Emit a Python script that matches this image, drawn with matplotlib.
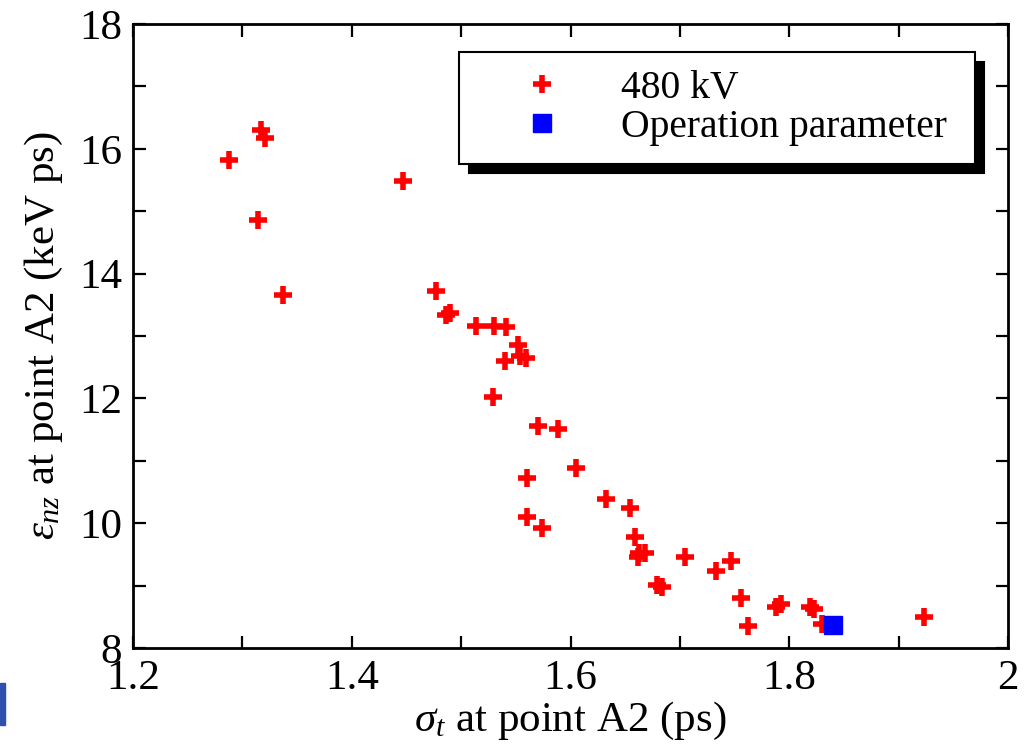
import matplotlib
matplotlib.use('Agg')
import matplotlib.pyplot as plt
from matplotlib.ticker import MultipleLocator
from matplotlib.patches import Rectangle

plt.rcParams['font.family'] = ['Liberation Serif', 'DejaVu Serif']
plt.rcParams['mathtext.fontset'] = 'custom'
plt.rcParams['mathtext.rm'] = 'Liberation Serif'
plt.rcParams['mathtext.it'] = 'Liberation Serif:italic'

# 480 kV scan: bunch length vs longitudinal emittance at A2
sigma_t = [1.288, 1.317, 1.321, 1.314, 1.337, 1.447,
           1.477, 1.486, 1.490, 1.514, 1.530, 1.541, 1.552, 1.540, 1.554, 1.559,
           1.529, 1.570, 1.589, 1.605, 1.560, 1.560, 1.574,
           1.632, 1.654, 1.659, 1.663, 1.668, 1.662, 1.705,
           1.679, 1.684, 1.733, 1.747, 1.756, 1.762,
           1.788, 1.792, 1.819, 1.823, 1.830, 1.923]
eps_nz = [15.82, 16.30, 16.17, 14.86, 13.65, 15.49,
          13.72, 13.33, 13.37, 13.16, 13.16, 13.15, 12.86, 12.60, 12.68, 12.64,
          12.03, 11.55, 11.51, 10.88, 10.72, 10.10, 9.93,
          10.39, 10.25, 9.78, 9.52, 9.52, 9.46, 9.46,
          9.01, 8.97, 9.24, 9.39, 8.80, 8.36,
          8.66, 8.70, 8.65, 8.62, 8.38, 8.50]

op_sigma = [1.840]
op_eps = [8.37]

fig = plt.figure(figsize=(10.25, 7.47), dpi=100)
ax = fig.add_axes([0.1298, 0.1325, 0.8536, 0.8354])

ax.plot(sigma_t, eps_nz, linestyle='none', marker='+', color='red',
        markersize=13, markeredgewidth=4, label='480 kV ')
ax.plot(op_sigma, op_eps, linestyle='none', marker='s', color='blue',
        markersize=13, label='Operation parameter ')

ax.set_xlim(1.2, 2.0)
ax.set_ylim(8, 18)
ax.xaxis.set_major_locator(MultipleLocator(0.2))
ax.xaxis.set_minor_locator(MultipleLocator(0.1))
ax.yaxis.set_major_locator(MultipleLocator(2))
ax.yaxis.set_minor_locator(MultipleLocator(1))
ax.xaxis.set_major_formatter(plt.FuncFormatter(lambda v, p: ('%g' % round(v, 1))))
ax.tick_params(which='both', direction='in', top=True, right=True,
               length=9, width=1.6, labelsize=31, pad=8)
for s in ax.spines.values():
    s.set_linewidth(2)

ax.set_xlabel(r'$\sigma_t$ at point A2 (ps)', fontsize=31, labelpad=2)
ax.set_ylabel(r'$\varepsilon_{nz}$ at point A2 (keV ps)', fontsize=31, labelpad=10)

leg = ax.legend(loc='upper right', bbox_to_anchor=(0.962, 0.955),
                fontsize=28.5, fancybox=False, framealpha=1, edgecolor='black',
                handletextpad=0.35, borderpad=0.45, labelspacing=0.05,
                handlelength=3.3, borderaxespad=0,
                shadow={'color': 'black', 'alpha': 1, 'ox': 7, 'oy': -7})
leg.get_frame().set_linewidth(1.5)

# slide remnants at left edge
fig.patches.append(Rectangle((0, 0.03), 0.005, 0.056, transform=fig.transFigure,
                             color='#3050b0', zorder=5))

fig.savefig('out.png', dpi=100)
